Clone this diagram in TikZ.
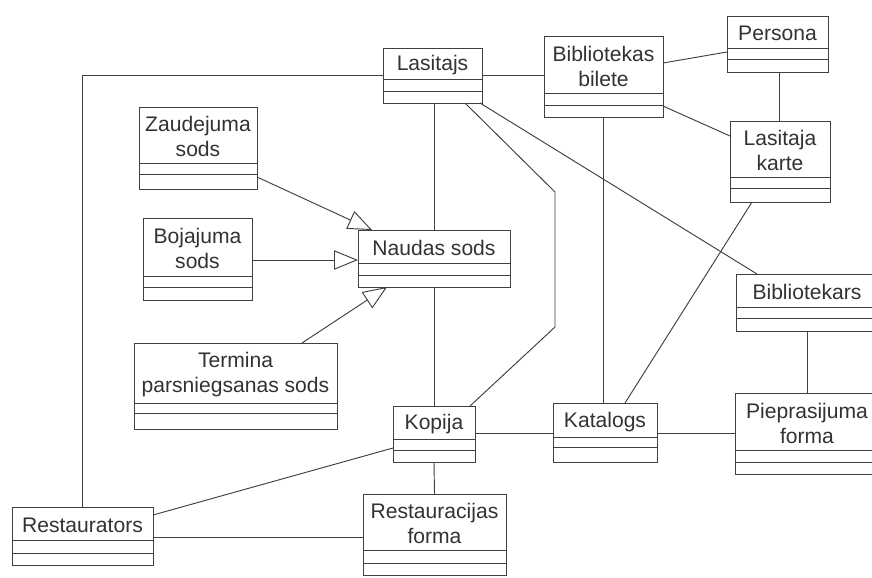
\documentclass[tikz,border=0pt]{standalone}
\usepackage{fontspec}
\setmainfont{Liberation Sans}
\usetikzlibrary{fit,arrows.meta}
\tikzset{
  x={(0.03cm,0)}, y={(0,-0.03cm)},
  ink/.style={draw=black!75, line width=0.8pt},
  clsbox/.style={ink, inner sep=0pt, outer sep=0pt, rectangle},
  clsline/.style={ink},
  clstext/.style={text=black!80, align=center, inner sep=0pt, yshift=-0.05cm, font=\fontsize{18}{21}\selectfont},
  assoc/.style={ink},
  gen/.style={ink, -{Triangle[open, length=0.72cm, width=0.58cm, line width=0.8pt]}},
}
\newcommand\umlcls[8]{%
  \node[clsbox, fit={(#2,#3) (#4,#5)}] (#1) {};
  \draw[clsline] (#2,#6) -- (#4,#6) (#2,#7) -- (#4,#7);
  \node[clstext] (#1-t) at ({(#2+#4)/2},{(#3+#6)/2}) {#8};
}
\begin{document}
\begin{tikzpicture}
\useasboundingbox (0,0) rectangle (872,577);
\clip (0,0) rectangle (872,577);
\fill[white] (0,0) rectangle (872,577);

% classes: name, x1, y1, x2, y2, divider1, divider2, text
\umlcls{lasitajs}{383}{48}{482}{103}{79}{91}{Lasitajs}
\umlcls{bilete}{544}{36}{663}{117}{93}{105}{Bibliotekas\\bilete}
\umlcls{persona}{727}{16}{828}{72}{48}{59}{Persona}
\umlcls{karte}{730}{121}{830}{202}{177}{188}{Lasitaja\\karte}
\umlcls{zaudejuma}{139}{107}{257}{189}{163}{174}{Zaudejuma\\sods}
\umlcls{bojajuma}{143}{218}{252}{300}{276}{287}{Bojajuma\\sods}
\umlcls{naudas}{358}{230}{510}{287}{263}{275}{Naudas sods}
\umlcls{termina}{134}{343}{337}{429}{403}{413}{Termina\\parsniegsanas sods}
\umlcls{kopija}{393}{406}{475}{462}{439}{450}{Kopija}
\umlcls{katalogs}{553}{403}{657}{462}{437}{447}{Katalogs}
\umlcls{bibliotekars}{736}{274}{878}{331}{307}{318}{Bibliotekars}
\umlcls{pieprasijuma}{735}{393}{879}{474}{450}{462}{Pieprasijuma\\forma}
\umlcls{restaurators}{12}{507}{153}{565}{540}{553}{Restaurators}
\umlcls{restforma}{363}{494}{506}{575}{550}{563}{Restauracijas\\forma}

% associations
\draw[assoc] (restaurators.north -| 82,0) |- (lasitajs.west);
\draw[assoc] (lasitajs.east) -- (lasitajs.east -| bilete.west);
\draw[assoc] (bilete.east |- 0,63) -- (persona.west |- 0,52);
\draw[assoc] (bilete.east |- 0,106) -- (karte.west |- 0,136);
\draw[assoc] (persona.south -| 779,0) -- (karte.north -| 779,0);
\draw[assoc] (lasitajs.south -| naudas.north) -- (naudas.north);
\draw[assoc] (naudas.south) -- (kopija.north);
\draw[assoc] (lasitajs.south -| 465,0) -- (555,192) -- (555,327) -- (kopija.north -| 470,0);
\draw[assoc] (lasitajs.south -| 480,0) -- (bibliotekars.north -| 757,0);
\draw[assoc] (bilete.south) -- (bilete.south |- katalogs.north);
\draw[assoc] (karte.south -| 752,0) -- (katalogs.north -| 625,0);
\draw[assoc] (bibliotekars.south) -- (pieprasijuma.north);
\draw[assoc] (kopija.east |- 0,433) -- (katalogs.west |- 0,433);
\draw[assoc] (katalogs.east |- 0,433) -- (pieprasijuma.west |- 0,433);
\draw[assoc] (kopija.south) -- (restforma.north);
\draw[assoc] (kopija.west |- 0,448) -- (restaurators.east |- 0,515);
\draw[assoc] (restaurators.east |- 0,537) -- (restforma.west |- 0,537);

% generalizations
\draw[gen] (zaudejuma.east |- 0,177) -- (naudas.north -| 372,0);
\draw[gen] (bojajuma.east |- 0,260) -- (naudas.west |- 0,260);
\draw[gen] (termina.north -| 302,0) -- (naudas.south -| 387,0);
\end{tikzpicture}
\end{document}
